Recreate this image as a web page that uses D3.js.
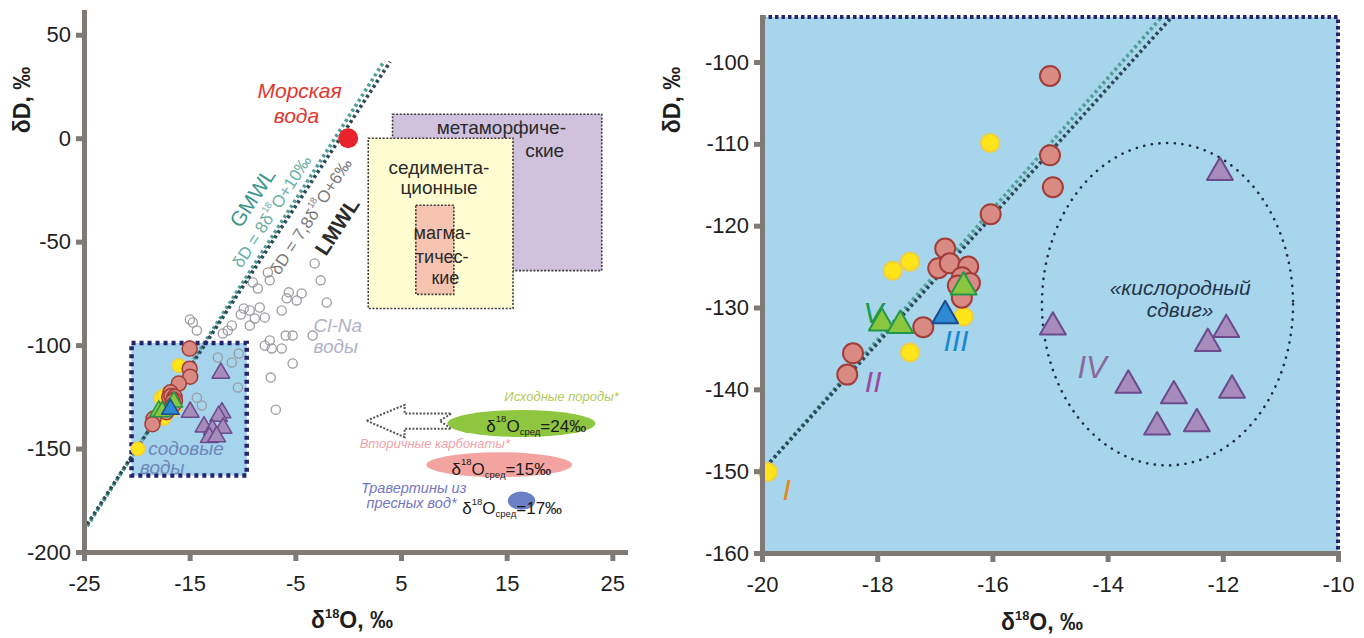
<!DOCTYPE html>
<html lang="ru">
<head>
<meta charset="utf-8">
<script src="https://cdn.jsdelivr.net/npm/d3@7/dist/d3.min.js"></script>
<style>
  html, body { margin: 0; padding: 0; background: #fff; }
  svg { display: block; font-family: "Liberation Sans", Arial, Helvetica, sans-serif; }
</style>
</head>
<body>
<svg id="chart" width="1364" height="638"></svg>
<script>
// ---------------- data ----------------
const leftXTicks  = [-25, -15, -5, 5, 15, 25];
const leftYTicks  = [50, 0, -50, -100, -150, -200];
const rightXTicks = [-20, -18, -16, -14, -12, -10];
const rightYTicks = [-100, -110, -120, -130, -140, -150, -160];

// meteoric water lines: dD = slope * d18O + intercept
const lineNames      = ["GMWL", "LMWL"];
const lineSlopes     = [8, 7.8];
const lineIntercepts = [10, 6];

// [d18O, dD]
const seaWater = [[0, 0]];

const redCircles = [
  [-15.0, -101.7], [-15.0, -111.4], [-14.95, -115.3], [-16.03, -118.6], [-16.82, -122.8],
  [-16.94, -125.2], [-16.74, -124.6], [-16.42, -125.0], [-16.53, -126.3], [-16.39, -127.0],
  [-16.6, -127.3], [-16.53, -128.8], [-17.2, -132.4], [-18.42, -135.6], [-18.52, -138.2]
];
const yellowCircles = [
  [-16.04, -109.9], [-17.73, -125.5], [-17.43, -124.4], [-16.5, -131.1], [-17.43, -135.5], [-19.9, -150.1]
];
const greenTriangles  = [[-16.5, -127.5], [-17.92, -131.9], [-17.6, -132.2]];
const blueTriangles   = [[-16.82, -131.0]];
const purpleTriangles = [
  [-12.05, -113.5], [-14.95, -132.4], [-11.94, -132.7], [-12.26, -134.4], [-13.64, -139.5],
  [-11.84, -140.1], [-12.85, -140.8], [-13.14, -144.6], [-12.45, -144.2]
];

// Cl-Na waters
const clNaWaters = [
  [-3.17, -60.5], [-2.6, -68.7], [-2.03, -79.4], [-9.03, -69.7], [-8.55, -72.6], [-7.6, -64.9],
  [-7.42, -68.7], [-5.62, -74.5], [-4.87, -78.4], [-5.81, -77.4], [-6.29, -83.3], [-9.88, -82.3],
  [-9.31, -83.3], [-10.16, -85.2], [-8.84, -87.1], [-9.31, -90.5], [-7.89, -86.6], [-11.01, -90.5],
  [-11.39, -92.9], [-11.86, -94.4], [-14.7, -89.1], [-14.32, -92.9], [-5.91, -95.4], [-5.25, -95.4],
  [-7.42, -97.8], [-7.89, -100.2], [-7.23, -101.6], [-6.29, -101.6], [-3.36, -95.4], [-5.25, -108.9],
  [-7.33, -115.7], [-6.85, -131.2], [-12.33, -106.0], [-11.01, -108.4], [-10.35, -104.1],
  [-14.32, -125.4], [-13.85, -129.2], [-10.44, -120.5], [-4.4, -75.0], [-14.98, -87.6], [-8.37, -81.8]
];

// genetic fields of waters: d18O range, dD range
const fieldNames = [["метаморфиче-", "ские"], ["седимента-", "ционные"], ["магма-", "тичес-", "кие"]];
const fieldO = [[4.2, 24.0], [1.9, 15.6], [6.4, 10.0]];
const fieldD = [[-64, 11.6], [-82.3, 0], [-75.5, -32.4]];

// soda waters window (enlarged in the right panel)
const sodaO = [-20.5, -9.6];
const sodaD = [-163, -99];

// "oxygen shift" group IV
const shiftCenter = [-12.96, -129.6];
const shiftRadii  = [2.18, 19.7];

// carbonate sources and mean d18O
const carbonateNames = [["Исходные породы*"], ["Вторичные карбонаты*"], ["Травертины из", "пресных вод*"]];
const carbonateMeans = [24, 15, 17];

// ---------------- layout & style ----------------
const svg = d3.select("#chart");
const AXIS_GREY = "#7f7a75";
const TEXT = "#1e1e1e";

const xL = d3.scaleLinear().domain([-25, 26.2]).range([84, 625]);
const yL = d3.scaleLinear().domain([-200, 61]).range([552, 12]);
const xR = d3.scaleLinear().domain([-20, -10]).range([762, 1338]);
const yR = d3.scaleLinear().domain([-160, -94.5]).range([553, 17]);

const lineColors = { GMWL: "#4f9f98", LMWL: "#2e4a58" };
const groupStyle = {
  red:    { fill: "#d98a82", stroke: "#a23d37" },
  yellow: { fill: "#ffe51a", stroke: "#f3cf3a" },
  green:  { fill: "#8cc63f", stroke: "#24984a" },
  blue:   { fill: "#2c8ad2", stroke: "#1b4c8e" },
  purple: { fill: "#a78bbd", stroke: "#6b4b8c" }
};
const tickFmt = d => String(d);

// text with superscripts / subscripts
function rich(textSel, parts, base) {
  let cur = 0;
  parts.forEach(([t, kind]) => {
    const target = kind === "sup" ? -0.42 * base : kind === "sub" ? 0.3 * base : 0;
    const ts = textSel.append("tspan").text(t);
    if (kind !== "n") ts.attr("font-size", base * 0.56);
    if (target !== cur) { ts.attr("dy", target - cur); cur = target; }
  });
  return textSel;
}

function styleAxis(g) {
  g.select(".domain").attr("stroke", AXIS_GREY).attr("stroke-width", 5).attr("stroke-linecap", "square");
  g.selectAll(".tick line").attr("stroke", AXIS_GREY).attr("stroke-width", 5);
  g.selectAll(".tick text").attr("fill", TEXT).attr("font-size", 22)
    .attr("font-family", '"Liberation Sans", Arial, sans-serif');
}

function drawPoints(g, x, y, r, tri) {
  const circ = (data, st) => g.append("g").selectAll("circle").data(data).join("circle")
    .attr("cx", d => x(d[0])).attr("cy", d => y(d[1])).attr("r", st === groupStyle.yellow ? r * 0.9 : r)
    .attr("fill", st.fill).attr("stroke", st.stroke).attr("stroke-width", r > 8 ? 2 : 1.5);
  const triangle = d3.symbol().type(d3.symbolTriangle).size(tri);
  const tris = (data, st) => g.append("g").selectAll("path").data(data).join("path")
    .attr("transform", d => `translate(${x(d[0])},${y(d[1])})`).attr("d", triangle)
    .attr("fill", st.fill).attr("stroke", st.stroke).attr("stroke-width", r > 8 ? 2 : 1.5)
    .attr("stroke-linejoin", "round");
  circ(yellowCircles, groupStyle.yellow);
  circ(redCircles, groupStyle.red);
  tris(purpleTriangles, groupStyle.purple);
  tris(greenTriangles, groupStyle.green);
  tris(blueTriangles, groupStyle.blue);
}

function drawLines(g, x, y, x0, topD) {
  lineNames.forEach((name, i) => {
    const m = lineSlopes[i], b = lineIntercepts[i];
    const x1 = (topD - b) / m;
    g.append("line")
      .attr("x1", x(x0)).attr("y1", y(m * x0 + b))
      .attr("x2", x(x1)).attr("y2", y(m * x1 + b))
      .attr("stroke", lineColors[name]).attr("stroke-width", 3.6)
      .attr("stroke-dasharray", "3,3");
  });
}

// ================= LEFT PANEL =================
const L = svg.append("g");

// genetic fields
const fieldFill = ["#d0c1dd", "#fefcd0", "#f8c4b2"];
fieldNames.forEach((lines, i) => {
  L.append("rect")
    .attr("x", xL(fieldO[i][0])).attr("y", yL(fieldD[i][1]))
    .attr("width", xL(fieldO[i][1]) - xL(fieldO[i][0]))
    .attr("height", yL(fieldD[i][0]) - yL(fieldD[i][1]))
    .attr("fill", fieldFill[i]).attr("stroke", "#3c3c3c").attr("stroke-width", 1.6)
    .attr("stroke-dasharray", "2,1.6");
});
const fieldLabelPos = [[[14.5, 5.3], [18.6, -5.8]], [[8.6, -14.0], [8.6, -23.7]], [[8.9, -46.0], [8.9, -57.6], [9.2, -67.8]]];
const fieldLabelSize = [19, 19, 18];
fieldNames.forEach((lines, i) => {
  lines.forEach((t, j) => {
    L.append("text").attr("x", xL(fieldLabelPos[i][j][0])).attr("y", yL(fieldLabelPos[i][j][1]))
      .attr("text-anchor", "middle").attr("dominant-baseline", "central")
      .attr("font-size", fieldLabelSize[i]).attr("fill", "#2a2a2a").text(t);
  });
});

// soda waters window
L.append("rect")
  .attr("x", xL(sodaO[0])).attr("y", yL(sodaD[1]))
  .attr("width", xL(sodaO[1]) - xL(sodaO[0])).attr("height", yL(sodaD[0]) - yL(sodaD[1]))
  .attr("fill", "#a6d4ec");

// Cl-Na waters
L.append("g").selectAll("circle").data(clNaWaters).join("circle")
  .attr("cx", d => xL(d[0])).attr("cy", d => yL(d[1])).attr("r", 4.6)
  .attr("fill", "none").attr("stroke", "#9b9ba2").attr("stroke-width", 1.3);

// meteoric lines
drawLines(L, xL, yL, -25, 37);

L.append("rect")
  .attr("x", xL(sodaO[0])).attr("y", yL(sodaD[1]))
  .attr("width", xL(sodaO[1]) - xL(sodaO[0])).attr("height", yL(sodaD[0]) - yL(sodaD[1]))
  .attr("fill", "none").attr("stroke", "#24246e").attr("stroke-width", 4.5).attr("stroke-dasharray", "4,4");

drawPoints(L, xL, yL, 7.5, 135);

// sea water
L.append("g").selectAll("circle").data(seaWater).join("circle")
  .attr("cx", d => xL(d[0])).attr("cy", d => yL(d[1])).attr("r", 10).attr("fill", "#e8232a");

// carbonate ellipses and arrow
const ellCenters = [[16.4, -137.9], [14.3, -157.8], [16.4, -175.2]];
const ellRadii = [[7.0, 6.5], [6.9, 6.0], [1.3, 4.4]];
const ellFill = ["#8ec63f", "#f4a4a0", "#6a7fc6"];
const arrow = [[1.75, -136.5], [5.34, -128.9], [5.34, -133.1], [9.78, -133.1], [8.65, -136.6],
               [9.78, -140.4], [5.34, -140.4], [5.34, -144.5]];
L.append("path")
  .attr("d", d3.line()(arrow.map(p => [xL(p[0]), yL(p[1])])) + "Z")
  .attr("fill", "none").attr("stroke", "#555").attr("stroke-width", 2).attr("stroke-dasharray", "2,1.6");
ellCenters.forEach((c, i) => {
  L.append("ellipse").attr("cx", xL(c[0])).attr("cy", yL(c[1]))
    .attr("rx", xL(c[0] + ellRadii[i][0]) - xL(c[0])).attr("ry", yL(c[1] - ellRadii[i][1]) - yL(c[1]))
    .attr("fill", ellFill[i]);
});
const carbTitlePos = [[[20.2, -124.9]], [[8.2, -147.6]], [[6.2, -168.9], [6.0, -176.2]]];
const carbTitleColor = ["#b5c95c", "#f2a2aa", "#7476c0"];
carbonateNames.forEach((lines, i) => {
  lines.forEach((t, j) => {
    L.append("text").attr("x", xL(carbTitlePos[i][j][0])).attr("y", yL(carbTitlePos[i][j][1]))
      .attr("text-anchor", "middle").attr("dominant-baseline", "central")
      .attr("font-size", i === 2 ? 14.5 : 13).attr("font-style", "italic")
      .attr("fill", carbTitleColor[i]).text(t);
  });
});
const carbValPos = [[17.8, -138.9, "middle"], [14.5, -159.7, "middle"], [10.8, -178.6, "start"]];
carbonateMeans.forEach((v, i) => {
  const t = L.append("text").attr("x", xL(carbValPos[i][0])).attr("y", yL(carbValPos[i][1]))
    .attr("text-anchor", carbValPos[i][2]).attr("dominant-baseline", "central")
    .attr("font-size", 17).attr("fill", "#1a1a1a");
  rich(t, [["δ", "n"], ["18", "sup"], ["O", "n"], ["сред", "sub"], [`=${v}‰`, "n"]], 17);
});

// meteoric line captions
const capAngle = -57;
const capSpecs = [
  { pos: [-9.12, -28.6], size: 21, color: "#3e978b", weight: "normal", parts: [["GMWL", "n"]] },
  { pos: [-7.23, -35.3], size: 17, color: "#6aaea6", weight: "normal",
    parts: [["δD = 8δ", "n"], ["18", "sup"], ["O+10‰", "n"]] },
  { pos: [-3.54, -37.8], size: 17, color: "#7a7a7a", weight: "normal",
    parts: [["δD = 7,8δ", "n"], ["18", "sup"], ["O+6‰", "n"]] },
  { pos: [-1.1, -42.5], size: 21, color: "#2b2b2b", weight: "bold", parts: [["LMWL", "n"]] }
];
capSpecs.forEach(s => {
  const t = L.append("text")
    .attr("transform", `translate(${xL(s.pos[0])},${yL(s.pos[1])}) rotate(${capAngle})`)
    .attr("text-anchor", "middle").attr("dominant-baseline", "central")
    .attr("font-size", s.size).attr("font-weight", s.weight).attr("fill", s.color);
  rich(t, s.parts, s.size);
});

// free labels
const leftLabels = [
  { t: "Морская", p: [-4.6, 23.2], c: "#e2352c", s: 21 },
  { t: "вода", p: [-4.9, 11.1], c: "#e2352c", s: 21 },
  { t: "Cl-Na", p: [-0.98, -90.5], c: "#b2b2c6", s: 19 },
  { t: "воды", p: [-1.18, -100.7], c: "#b2b2c6", s: 19 },
  { t: "содовые", p: [-15.35, -150.0], c: "#6f86b8", s: 19 },
  { t: "воды", p: [-17.6, -159.2], c: "#6f86b8", s: 19 }
];
leftLabels.forEach(d => {
  L.append("text").attr("x", xL(d.p[0])).attr("y", yL(d.p[1]))
    .attr("text-anchor", "middle").attr("dominant-baseline", "central")
    .attr("font-size", d.s).attr("font-style", "italic").attr("fill", d.c).text(d.t);
});

// axes
const gxL = L.append("g").attr("transform", `translate(0,${yL(-200)})`)
  .call(d3.axisBottom(xL).tickValues(leftXTicks).tickSize(9).tickSizeOuter(0).tickPadding(14).tickFormat(tickFmt));
const gyL = L.append("g").attr("transform", `translate(${xL(-25)},0)`)
  .call(d3.axisLeft(yL).tickValues(leftYTicks).tickSize(8).tickSizeOuter(0).tickPadding(5).tickFormat(tickFmt));
styleAxis(gxL); styleAxis(gyL);

// axis titles
rich(L.append("text").attr("transform", "translate(30,100) rotate(-90)").attr("text-anchor", "middle")
  .attr("font-size", 23).attr("font-weight", "bold").attr("fill", TEXT), [["δD, ‰", "n"]], 23);
rich(L.append("text").attr("x", 352).attr("y", 628).attr("text-anchor", "middle")
  .attr("font-size", 23).attr("font-weight", "bold").attr("fill", TEXT),
  [["δ", "n"], ["18", "sup"], ["O, ‰", "n"]], 23);

// ================= RIGHT PANEL =================
const R = svg.append("g");
R.append("defs").append("clipPath").attr("id", "rclip").append("rect")
  .attr("x", xR(-20)).attr("y", yR(-94.5)).attr("width", xR(-10) - xR(-20)).attr("height", yR(-160) - yR(-94.5));

R.append("rect").attr("x", xR(-20)).attr("y", yR(-94.5))
  .attr("width", xR(-10) - xR(-20)).attr("height", yR(-160) - yR(-94.5)).attr("fill", "#a7d5ec");

const RL = R.append("g").attr("clip-path", "url(#rclip)");
drawLines(RL, xR, yR, -20, -94.5);

// oxygen-shift ellipse
R.append("ellipse").attr("cx", xR(shiftCenter[0])).attr("cy", yR(shiftCenter[1]))
  .attr("rx", xR(shiftCenter[0] + shiftRadii[0]) - xR(shiftCenter[0]))
  .attr("ry", yR(shiftCenter[1] - shiftRadii[1]) - yR(shiftCenter[1]))
  .attr("fill", "none").attr("stroke", "#1f2d44").attr("stroke-width", 2.6)
  .attr("stroke-linecap", "round").attr("stroke-dasharray", "0.1,7.6");

drawPoints(R, xR, yR, 10, 290);

// dotted frame (top and right)
R.append("path")
  .attr("d", d3.line()([[xR(-20), yR(-94.5)], [xR(-10), yR(-94.5)], [xR(-10), yR(-160)]]))
  .attr("fill", "none").attr("stroke", "#24246e").attr("stroke-width", 4).attr("stroke-dasharray", "3.5,3");

// group numerals
const groupLabels = [
  { t: "I", p: [-19.57, -152.2], c: "#e8861a", s: 30 },
  { t: "II", p: [-18.07, -139.1], c: "#9a4a9e", s: 30 },
  { t: "III", p: [-16.63, -134.0], c: "#1a8ad0", s: 30 },
  { t: "V", p: [-18.07, -130.6], c: "#1a9a50", s: 30 },
  { t: "IV", p: [-14.27, -137.3], c: "#8a6a9c", s: 31 }
];
groupLabels.forEach(d => {
  R.append("text").attr("x", xR(d.p[0])).attr("y", yR(d.p[1]))
    .attr("text-anchor", "middle").attr("dominant-baseline", "central")
    .attr("font-size", d.s).attr("font-style", "italic").attr("fill", d.c).text(d.t);
});
[["«кислородный", [-12.74, -127.5]], ["сдвиг»", [-12.74, -130.3]]].forEach(([t, p]) => {
  R.append("text").attr("x", xR(p[0])).attr("y", yR(p[1]))
    .attr("text-anchor", "middle").attr("dominant-baseline", "central")
    .attr("font-size", 21).attr("font-style", "italic").attr("fill", "#24344a").text(t);
});

const gxR = R.append("g").attr("transform", `translate(0,${yR(-160)})`)
  .call(d3.axisBottom(xR).tickValues(rightXTicks).tickSize(9).tickSizeOuter(0).tickPadding(14).tickFormat(tickFmt));
const gyR = R.append("g").attr("transform", `translate(${xR(-20)},0)`)
  .call(d3.axisLeft(yR).tickValues(rightYTicks).tickSize(8).tickSizeOuter(0).tickPadding(5).tickFormat(tickFmt));
styleAxis(gxR); styleAxis(gyR);

rich(R.append("text").attr("transform", "translate(680,100) rotate(-90)").attr("text-anchor", "middle")
  .attr("font-size", 23).attr("font-weight", "bold").attr("fill", TEXT), [["δD, ‰", "n"]], 23);
rich(R.append("text").attr("x", 1042).attr("y", 630).attr("text-anchor", "middle")
  .attr("font-size", 23).attr("font-weight", "bold").attr("fill", TEXT),
  [["δ", "n"], ["18", "sup"], ["O, ‰", "n"]], 23);
</script>
</body>
</html>
